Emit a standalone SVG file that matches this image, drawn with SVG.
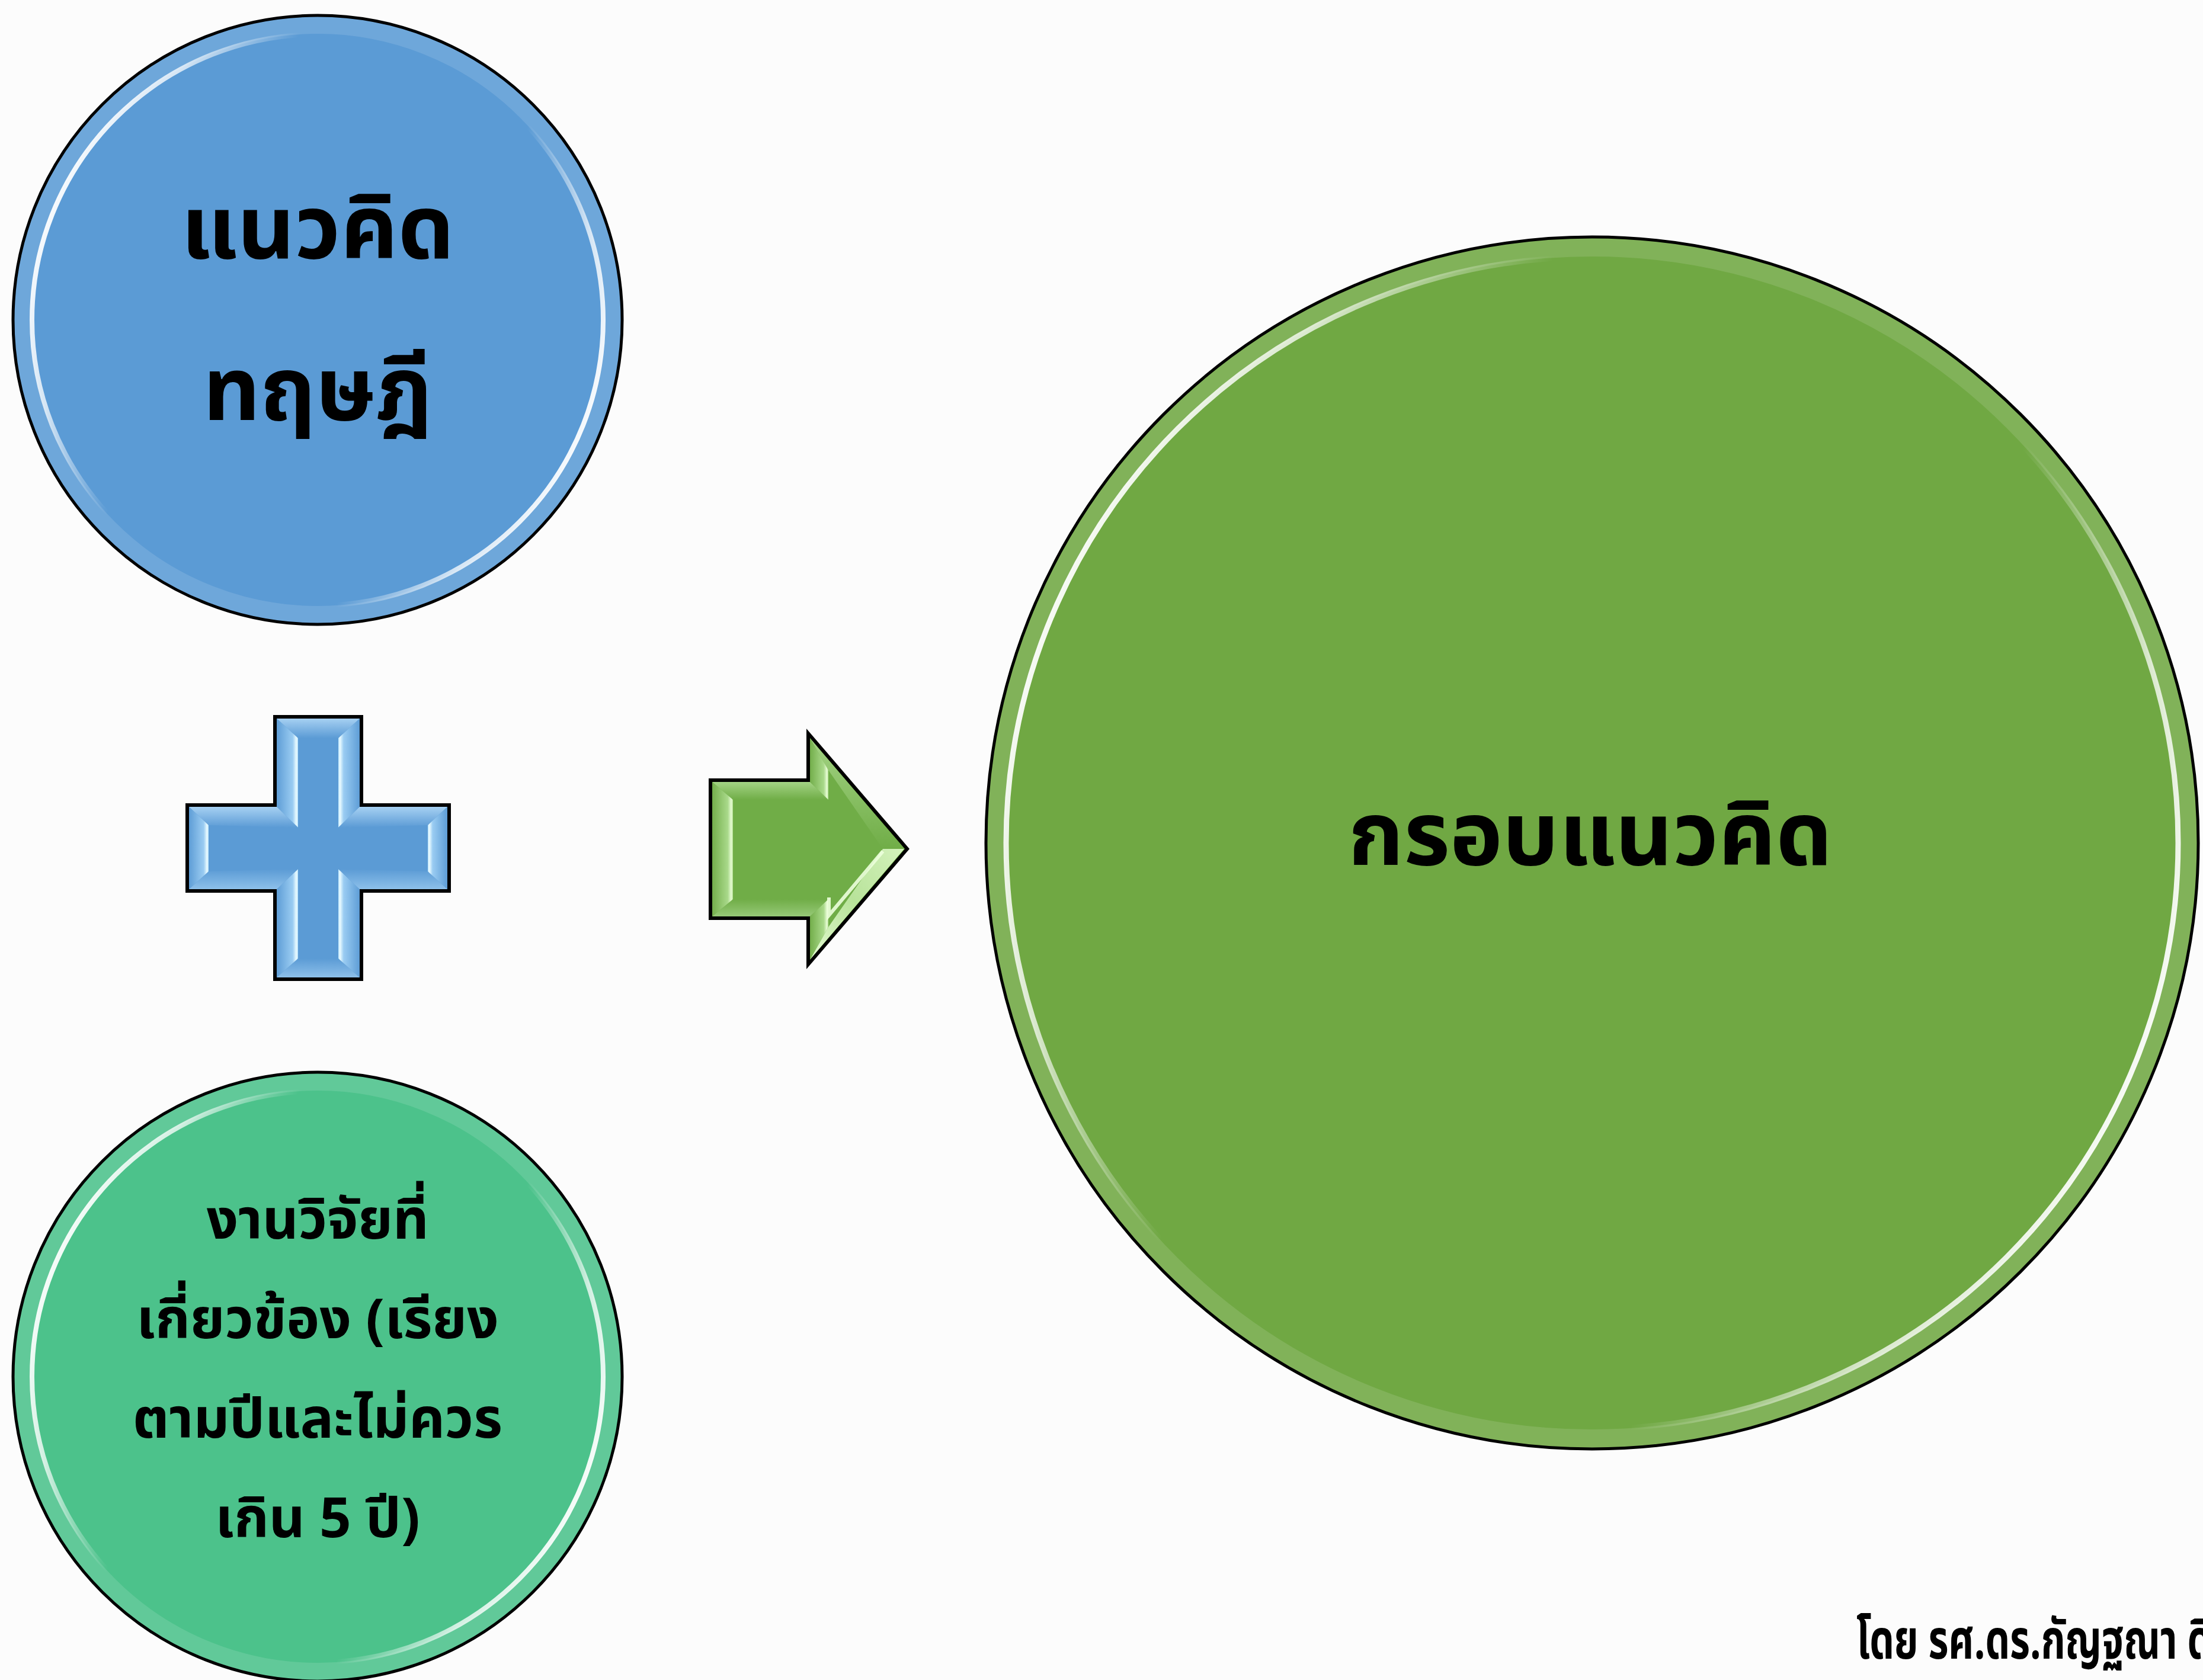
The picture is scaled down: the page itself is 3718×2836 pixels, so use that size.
<svg xmlns="http://www.w3.org/2000/svg" width="3718" height="2836" viewBox="0 0 3718 2836">
<style>
.lbl{font-family:"Noto Sans Thai","Noto Sans Thai UI","Leelawadee UI","Tahoma","Noto Sans","DejaVu Sans",sans-serif;font-weight:bold;fill:#000;text-anchor:middle}
.big{font-size:150px}
.mid{font-size:94px}
.foot{font-family:"Noto Sans Thai","Noto Sans","DejaVu Sans",sans-serif;font-weight:bold;font-size:92px;fill:#000}
.edge{stroke:#000;stroke-width:6;stroke-linejoin:miter}
.ring{fill:none;stroke:#fff;stroke-opacity:0.12}
</style>
<defs>
<linearGradient id="rim" x1="0" y1="0.3" x2="1" y2="0.7">
<stop offset="0" stop-color="#fff" stop-opacity="1"/>
<stop offset="0.14" stop-color="#fff" stop-opacity="0.75"/>
<stop offset="0.3" stop-color="#fff" stop-opacity="0"/>
<stop offset="0.7" stop-color="#fff" stop-opacity="0"/>
<stop offset="0.86" stop-color="#fff" stop-opacity="0.75"/>
<stop offset="1" stop-color="#fff" stop-opacity="1"/>
</linearGradient>
<!-- blue bevel facets -->
<linearGradient id="bL" x1="0" y1="0" x2="1" y2="0">
<stop offset="0" stop-color="#5E9DD6"/><stop offset="0.75" stop-color="#9ACCF2"/><stop offset="0.92" stop-color="#EAFBFF"/><stop offset="1" stop-color="#B8E2FA"/>
</linearGradient>
<linearGradient id="bR" x1="1" y1="0" x2="0" y2="0">
<stop offset="0" stop-color="#5E9DD6"/><stop offset="0.75" stop-color="#9ACCF2"/><stop offset="0.92" stop-color="#EAFBFF"/><stop offset="1" stop-color="#B8E2FA"/>
</linearGradient>
<linearGradient id="bT" x1="0" y1="0" x2="0" y2="1">
<stop offset="0" stop-color="#A6D0F2"/><stop offset="1" stop-color="#5B9BD5"/>
</linearGradient>
<linearGradient id="bB" x1="0" y1="0" x2="0" y2="1">
<stop offset="0" stop-color="#5B9BD5"/><stop offset="1" stop-color="#8DC0EA"/>
</linearGradient>
<!-- green bevel facets -->
<linearGradient id="gL" x1="0" y1="0" x2="1" y2="0">
<stop offset="0" stop-color="#73AE4B"/><stop offset="0.75" stop-color="#A9D98A"/><stop offset="0.92" stop-color="#E6FBD3"/><stop offset="1" stop-color="#B5E095"/>
</linearGradient>
<linearGradient id="gT" x1="0" y1="0" x2="0" y2="1">
<stop offset="0" stop-color="#A3D384"/><stop offset="1" stop-color="#70AD47"/>
</linearGradient>
<linearGradient id="gB" x1="0" y1="0" x2="0" y2="1">
<stop offset="0" stop-color="#70AD47"/><stop offset="1" stop-color="#96C977"/>
</linearGradient>
<linearGradient id="gD" x1="1" y1="0" x2="0" y2="1">
<stop offset="0" stop-color="#D4F2BC"/><stop offset="0.5" stop-color="#B8E39A"/><stop offset="1" stop-color="#E2FAD0"/>
</linearGradient>
</defs>
<rect x="0" y="0" width="3718" height="2836" fill="#FCFCFC"/>

<g id="connectors">
<g id="plus">
<polygon class="edge" fill="#5B9BD5" points="464,1210 610,1210 610,1359 758,1359 758,1504 610,1504 610,1653 464,1653 464,1504 316,1504 316,1359 464,1359"/>
<polygon fill="url(#bT)" points="467,1213 607,1213 571,1246 503,1246"/>
<polygon fill="url(#bL)" points="467,1213 503,1246 503,1397 467,1362"/>
<polygon fill="url(#bR)" points="607,1213 571,1246 571,1397 607,1362"/>
<polygon fill="url(#bB)" points="503,1618 571,1618 607,1650 467,1650"/>
<polygon fill="url(#bL)" points="467,1650 503,1618 503,1467 467,1501"/>
<polygon fill="url(#bR)" points="607,1650 571,1618 571,1467 607,1501"/>
<polygon fill="url(#bT)" points="319,1362 467,1362 503,1397 352,1393"/>
<polygon fill="url(#bB)" points="352,1471 503,1467 467,1501 319,1501"/>
<polygon fill="url(#bL)" points="319,1362 352,1393 352,1471 319,1501"/>
<polygon fill="url(#bT)" points="607,1362 755,1362 722,1393 571,1397"/>
<polygon fill="url(#bB)" points="571,1467 722,1471 755,1501 607,1501"/>
<polygon fill="url(#bR)" points="755,1362 722,1393 722,1471 755,1501"/>
</g>
<g id="arrow">
<polygon class="edge" fill="#70AD47" points="1199,1317 1364,1317 1364,1238 1531,1433 1364,1628 1364,1550 1199,1550"/>
<polygon fill="url(#gT)" points="1202,1320 1367,1320 1398,1350 1237,1350"/>
<polygon fill="url(#gB)" points="1237,1518 1398,1518 1367,1547 1202,1547"/>
<polygon fill="url(#gL)" points="1202,1320 1237,1350 1237,1518 1202,1547"/>
<polygon fill="url(#gT)" points="1367,1246 1526,1433 1490,1433 1398,1300"/>
<polygon fill="url(#gL)" points="1367,1246 1398,1300 1398,1350 1367,1320"/>
<polygon fill="url(#gD)" points="1526,1433 1367,1620 1398,1565 1490,1433"/>
<polygon fill="url(#gL)" points="1367,1547 1398,1518 1398,1565 1367,1620"/>
<path d="M1490,1437 L1399,1545 L1399,1515" fill="none" stroke="#ECFFDC" stroke-width="6" stroke-opacity="0.9"/>
</g>
</g>

<g id="node-theory">
<circle cx="536" cy="540" r="514" fill="#5B9BD5"/>
<circle class="ring" cx="536" cy="540" r="498" stroke-width="30"/>
<circle cx="536" cy="540" r="482" fill="none" stroke="url(#rim)" stroke-width="8"/>
<circle cx="536" cy="540" r="514" fill="none" stroke="#000" stroke-width="5"/>
<text class="lbl big" x="536" y="436">แนวคิด</text>
<text class="lbl big" x="536" y="709">ทฤษฎี</text>
</g>

<g id="node-research">
<circle cx="536" cy="2324" r="514" fill="#4CC28B"/>
<circle class="ring" cx="536" cy="2324" r="498" stroke-width="30"/>
<circle cx="536" cy="2324" r="482" fill="none" stroke="url(#rim)" stroke-width="8"/>
<circle cx="536" cy="2324" r="514" fill="none" stroke="#000" stroke-width="5"/>
<text class="lbl mid" x="536" y="2091">งานวิจัยที่</text>
<text class="lbl mid" x="536" y="2259">เกี่ยวข้อง (เรียง</text>
<text class="lbl mid" x="536" y="2427">ตามปีและไม่ควร</text>
<text class="lbl mid" x="536" y="2595">เกิน 5 ปี)</text>
</g>

<g id="node-framework">
<circle cx="2687" cy="1423" r="1023" fill="#70A843"/>
<circle class="ring" cx="2687" cy="1423" r="1006" stroke-width="32"/>
<circle cx="2687" cy="1423" r="989" fill="none" stroke="url(#rim)" stroke-width="9"/>
<circle cx="2687" cy="1423" r="1023" fill="none" stroke="#000" stroke-width="5"/>
<text class="lbl big" x="2684" y="1460">กรอบแนวคิด</text>
</g>

<g id="footer">
<text class="foot" x="3133" y="2800" textLength="600" lengthAdjust="spacingAndGlyphs">โดย รศ.ดร.กัญฐณา ดิ</text>
</g>
</svg>
